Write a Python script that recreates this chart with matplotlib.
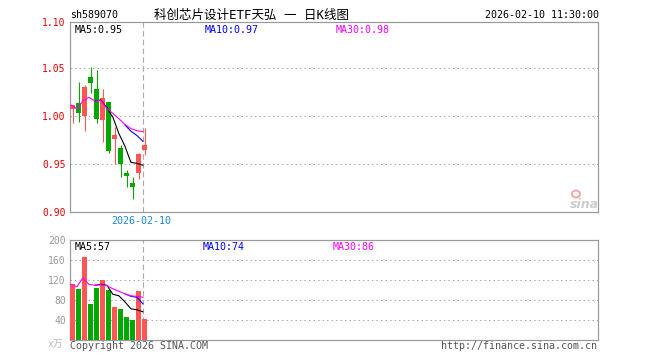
import matplotlib
matplotlib.use("Agg")
import matplotlib.pyplot as plt
from matplotlib.patches import Ellipse

plt.rcParams["font.family"] = ["DejaVu Sans Mono", "Noto Sans CJK SC"]

# --- data --------------------------------------------------------------------
opens  = [1.0073, 1.0142, 1.0007, 1.0413, 1.0285, 0.9965, 1.0149,
          0.9767, 0.9674, 0.9410, 0.9306, 0.9413, 0.9653]
closes = [1.0118, 1.0031, 1.0306, 1.0351, 0.9972, 1.0190, 0.9642,
          0.9802, 0.9507, 0.9382, 0.9267, 0.9604, 0.9701]
highs  = [1.0118, 1.0358, 1.0330, 1.0514, 1.0483, 1.0285, 1.0149,
          0.9892, 0.9701, 0.9440, 0.9368, 0.9618, 0.9880]
lows   = [0.9935, 0.9944, 0.9850, 1.0247, 0.9927, 0.9736, 0.9620,
          0.9500, 0.9372, 0.9260, 0.9142, 0.9350, 0.9600]
volumes = [112, 102, 166, 72, 104, 120, 100, 66, 62, 46, 40, 98, 42]

# moving-average lines as drawn (start index, values)
ma5_start,  ma5  = 4, [1.016, 1.017, 1.009, 0.999, 0.982, 0.969, 0.952, 0.951, 0.949]
ma10_start, ma10 = 9, [0.991, 0.9845, 0.980, 0.974]
ma30_start, ma30 = 0, [1.0118, 1.0078, 1.0160, 1.0198, 1.0160, 1.0165, 1.0080,
                       1.0030, 0.9975, 0.9915, 0.9872, 0.9850, 0.9840]
vma5_start,  vma5  = 4, [110, 112, 110, 92, 89, 77, 63, 61, 57]
vma10_start, vma10 = 9, [93, 88, 86, 73]
vma30_start, vma30 = 0, [112, 107, 125, 112, 110, 111, 109, 103, 98, 93, 89, 88, 86]

price_ticks = [0.90, 0.95, 1.00, 1.05]
vol_ticks = [40, 80, 120, 160, 200]

C_UP = "#ff5555"
C_DN = "#00a800"
C_GRID = "#aaaaaa"
C_BORDER = "#999999"
PX = 0.72   # one pixel in points at dpi 100

W, H = 660, 360
fig = plt.figure(figsize=(6.6, 3.6), dpi=100)
fig.patch.set_facecolor("white")


def px_axes(left, top, right, bottom):
    return fig.add_axes([left / W, 1 - bottom / H, (right - left) / W, (bottom - top) / H])


def ftext(x, y, s, **kw):
    fig.text(x / W, 1 - y / H, s, **kw)


n = len(closes)
xs = list(range(n))
colors = [C_UP if c >= o else C_DN for o, c in zip(opens, closes)]
x_lo, x_hi = (70 - 72.7) / 6, (598 - 72.7) / 6
x_date = n - 1 - 0.27
LINE_SHIFT = -0.3

# --- price panel -------------------------------------------------------------
ax = px_axes(70, 22, 598, 212.3)
p_top = 0.90 + (212.3 - 22) / 960
ax.set_xlim(x_lo, x_hi)
ax.set_ylim(0.90, p_top)

for y in [0.95, 1.00, 1.05]:
    ax.axhline(y, color=C_GRID, lw=PX, ls=(0, (1.5, 3)), zorder=1)
ax.axvline(x_date, color=C_GRID, lw=1.1 * PX, ls=(0, (5, 3)), zorder=1)

ax.vlines(xs, lows, highs, colors=colors, lw=PX * 1.1, zorder=2)
bodies = [max(abs(c - o), 0.0008) for o, c in zip(opens, closes)]
ax.bar(xs, bodies, bottom=[min(o, c) for o, c in zip(opens, closes)],
       width=0.83, color=colors, zorder=3)


def ma_line(a, start, vals, color, z):
    a.plot([start + i + LINE_SHIFT for i in range(len(vals))], vals,
           color=color, lw=PX * 1.1, zorder=z)


ma_line(ax, ma5_start, ma5, "black", 4)
ma_line(ax, ma10_start, ma10, "#0000ff", 5)
ma_line(ax, ma30_start, ma30, "#ff00ff", 6)

ax.set_xticks([])
ax.set_yticks(price_ticks + [p_top])
ax.set_yticklabels(["%.2f" % v for v in price_ticks] + ["1.10"])
ax.tick_params(axis="y", length=0, pad=3, labelsize=7, labelcolor="#ee0000")
for s in ax.spines.values():
    s.set_color(C_BORDER)
    s.set_linewidth(1.2 * PX)

# --- volume panel ------------------------------------------------------------
av = px_axes(70, 240.3, 598, 340.3)
av.set_xlim(x_lo, x_hi)
av.set_ylim(0, 200)
for y in [40, 80, 120, 160]:
    av.axhline(y, color=C_GRID, lw=PX, ls=(0, (1.5, 3)), zorder=1)
av.axvline(x_date, color=C_GRID, lw=1.1 * PX, ls=(0, (5, 3)), zorder=1)
av.bar(xs, volumes, width=0.83, color=colors, zorder=3)
ma_line(av, vma5_start, vma5, "black", 4)
ma_line(av, vma10_start, vma10, "#0000ff", 5)
ma_line(av, vma30_start, vma30, "#ff00ff", 6)
av.set_xticks([])
av.set_yticks(vol_ticks)
av.set_yticklabels([str(v) for v in vol_ticks])
av.tick_params(axis="y", length=0, pad=3, labelsize=7, labelcolor="#999999")
for s in av.spines.values():
    s.set_color(C_BORDER)
    s.set_linewidth(1.2 * PX)

# --- texts -------------------------------------------------------------------
fs = 7.2
ftext(70, 15, "sh589070", fontsize=fs, va="center", ha="left", color="black")
ftext(252, 15, "科创芯片设计ETF天弘 一 日K线图", fontsize=9, va="center",
      ha="center", color="black")
ftext(599, 15, "2026-02-10 11:30:00", fontsize=fs, va="center", ha="right", color="black")

ftext(74.5, 30, "MA5:0.95", fontsize=fs, va="center", color="black")
ftext(205, 30, "MA10:0.97", fontsize=fs, va="center", color="#0000ff")
ftext(336, 30, "MA30:0.98", fontsize=fs, va="center", color="#ff00ff")

ftext(75, 247, "MA5:57", fontsize=fs, va="center", color="black")
ftext(203, 247, "MA10:74", fontsize=fs, va="center", color="#0000ff")
ftext(333, 247, "MA30:86", fontsize=fs, va="center", color="#ff00ff")

ftext(141.7, 221, "2026-02-10", fontsize=fs, va="center", ha="center", color="#1a86d9")

ftext(63, 344, "x万", fontsize=7, va="center", ha="right", color="#bbbbbb")
ftext(70, 346, "Copyright 2026 SINA.COM", fontsize=fs, va="center", color="#555555")
ftext(597, 346, "http://finance.sina.com.cn", fontsize=fs, va="center",
      ha="right", color="#555555")

# sina watermark
ftext(584, 204, "sina", fontsize=9, va="center", ha="center", color="#cccccc",
      style="italic", weight="bold", family="DejaVu Sans")
fig.add_artist(Ellipse((576 / W, 1 - 194 / H), 8 / W, 7 / H, fc="none",
                       ec="#f4a6a6", lw=1.4))

fig.savefig("out.png", dpi=100, facecolor="white")
plt.close(fig)
